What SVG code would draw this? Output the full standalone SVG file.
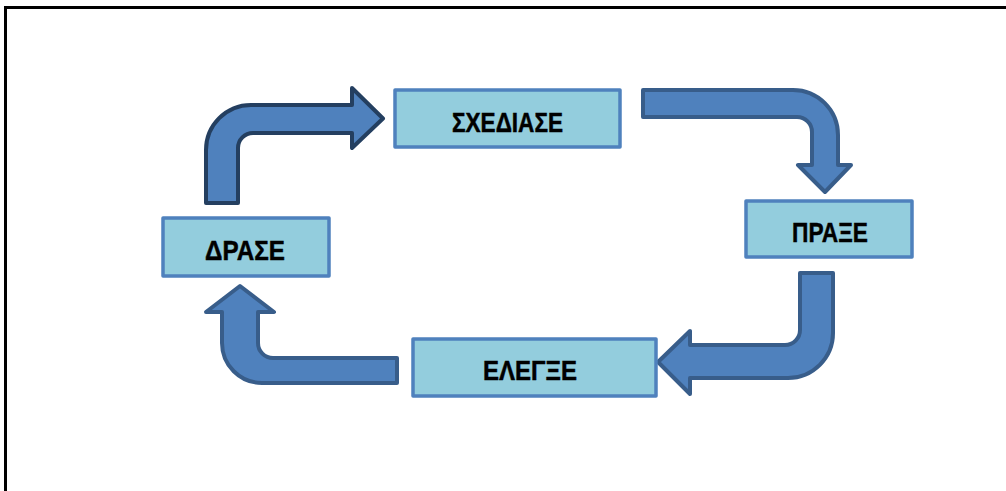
<svg xmlns="http://www.w3.org/2000/svg" width="1006" height="491" viewBox="0 0 1006 491">
  <style>
    .box { fill: #93CDDD; stroke: #4F81BD; stroke-width: 3.5; stroke-linejoin: round; }
    .lbl { font-family: "Liberation Sans", Arial, sans-serif; font-weight: bold; font-size: 28px; fill: #000; stroke: #000; stroke-width: 0.5; text-anchor: middle; }
    .arr { fill: #4F81BD; stroke: #385D8A; stroke-width: 4; stroke-linejoin: round; }
    .arr.dark { stroke: #243F60; }
  </style>
  <rect x="0" y="0" width="1006" height="491" fill="#fff"/>
  <g id="frame" stroke="#000" stroke-width="3" fill="none">
    <path d="M 5.5 491 L 5.5 7.5 L 1006 7.5"/>
  </g>
  <g id="connectors">
    <path class="arr dark" d="M 206 203 L 206 150 A 45 45 0 0 1 251 105 L 352 105 L 352 88 L 383 118.5 L 352 148 L 352 133 L 253 133 A 15 15 0 0 0 238 148 L 238 203 Z"/>
    <path class="arr" d="M 643 90 L 793 90 A 45 45 0 0 1 838 135 L 838 165 L 851 165 L 825 192 L 798 165 L 812 165 L 812 132 A 15 15 0 0 0 797 117 L 643 117 Z"/>
    <path class="arr" d="M 800 273 L 833 273 L 833 333 A 45 45 0 0 1 788 378 L 690 378 L 690 394 L 658 362 L 690 331 L 690 345 L 785 345 A 15 15 0 0 0 800 330 Z"/>
    <path class="arr" d="M 397 358 L 397 383 L 262 383 A 40 40 0 0 1 222 343 L 222 312 L 206 312 L 240 286 L 274 312 L 258 312 L 258 343 A 15 15 0 0 0 273 358 Z"/>
  </g>
  <g id="node-sxediase">
    <rect class="box" x="395" y="90" width="225" height="57"/>
    <text class="lbl" x="507.5" y="132" textLength="111" lengthAdjust="spacingAndGlyphs">ΣΧΕΔΙΑΣΕ</text>
  </g>
  <g id="node-praxe">
    <rect class="box" x="746" y="201" width="166" height="56"/>
    <text class="lbl" x="830" y="242" textLength="76" lengthAdjust="spacingAndGlyphs">ΠΡΑΞΕ</text>
  </g>
  <g id="node-elegxe">
    <rect class="box" x="413" y="339" width="243" height="57"/>
    <text class="lbl" x="530" y="380" textLength="94" lengthAdjust="spacingAndGlyphs">ΕΛΕΓΞΕ</text>
  </g>
  <g id="node-drase">
    <rect class="box" x="163" y="218" width="166" height="58"/>
    <text class="lbl" x="245" y="260" textLength="80" lengthAdjust="spacingAndGlyphs">ΔΡΑΣΕ</text>
  </g>
</svg>
